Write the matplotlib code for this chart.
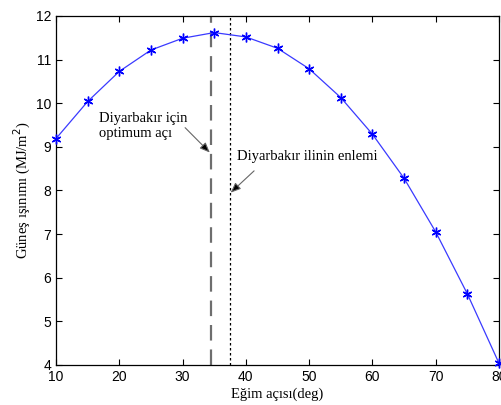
import matplotlib
matplotlib.use("Agg")
import matplotlib.pyplot as plt

angles = [10, 15, 20, 25, 30, 35, 40, 45, 50, 55, 60, 65, 70, 75, 80]
radiation = [9.19, 10.04, 10.73, 11.22, 11.49, 11.62, 11.52, 11.26, 10.79, 10.13, 9.29, 8.28, 7.05, 5.63, 4.04]
opt_angle = 34.5
latitude = 37.5
xticks = [10, 20, 30, 40, 50, 60, 70, 80]
yticks = [4, 5, 6, 7, 8, 9, 10, 11, 12]

fig = plt.figure(figsize=(5.01, 4.05), dpi=100)
ax = fig.add_axes([0.1118, 0.0988, 0.8842, 0.8617])

ax.plot(angles, radiation, color='#3a3aff', lw=0.9, marker=(6, 2, 0), markersize=7,
        markerfacecolor='blue', markeredgecolor='blue', markeredgewidth=1.0, clip_on=False, zorder=3)
ax.axvline(opt_angle, color='#6e6e6e', lw=1.6, ls=(0, (7, 4)))
ax.axvline(latitude, color='black', lw=0.9, ls=(0, (2, 2)))

ax.set_xlim(10, 80)
ax.set_ylim(4, 12)
ax.set_xticks(xticks)
ax.set_yticks(yticks)
ax.tick_params(direction='in', top=True, right=True, length=4, width=0.8,
               labelsize=10, colors='black')
for lab in ax.get_xticklabels() + ax.get_yticklabels():
    lab.set_fontfamily('Liberation Sans')
for s in ax.spines.values():
    s.set_linewidth(0.9)

serif = 'Liberation Serif'
ax.set_xlabel('Eğim açısı(deg)', fontfamily=serif, fontsize=10.5, labelpad=3)
ax.set_ylabel('Güneş ışınımı (MJ/m$^2$)', fontfamily=serif, fontsize=10.5, labelpad=2)

ax.text(16.8, 9.47, 'Diyarbakır için\noptimum açı', fontfamily=serif, fontsize=10.5,
        ha='left', va='center', linespacing=1.2)
ax.text(38.6, 8.77, 'Diyarbakır ilinin enlemi', fontfamily=serif, fontsize=10.5,
        ha='left', va='center')

arrowprops = dict(arrowstyle='-|>,head_length=0.6,head_width=0.25', color='#666666',
                  lw=0.8, mutation_scale=10, shrinkA=0, shrinkB=0)
a1 = ax.annotate('', xy=(34.3, 8.87), xytext=(30.4, 9.44), arrowprops=arrowprops)
a2 = ax.annotate('', xy=(37.6, 7.95), xytext=(41.3, 8.45), arrowprops=arrowprops)
for a in (a1, a2):
    a.arrow_patch.set_facecolor('black')

fig.savefig('out.png', dpi=100)
